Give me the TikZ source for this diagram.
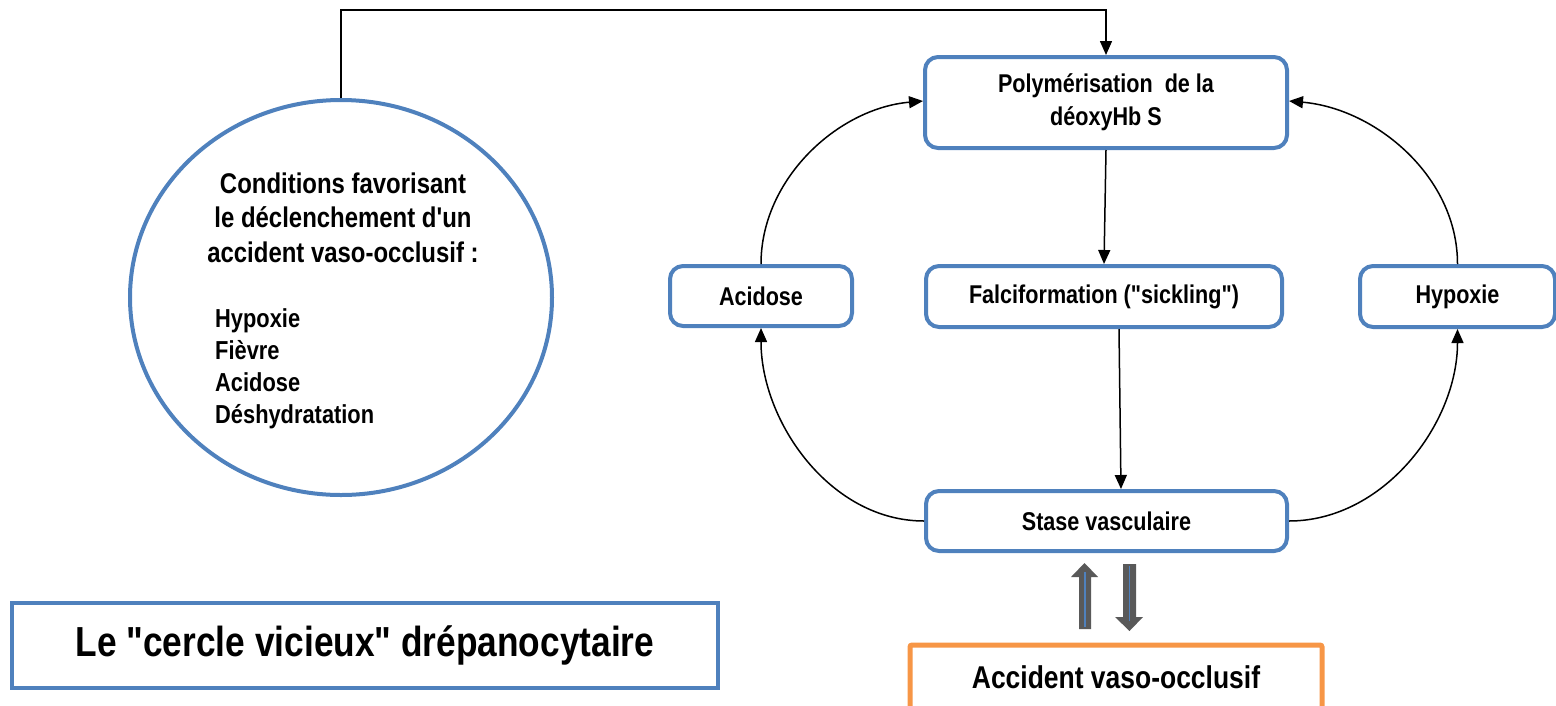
\documentclass[tikz,border=0pt]{standalone}
\usepackage{fontspec}
\setmainfont{Liberation Sans}[Ligatures=TeXOff, FakeStretch=0.84]
\usetikzlibrary{arrows.meta,shapes.geometric}
\definecolor{boxblue}{HTML}{4F81BD}
\definecolor{boxorange}{HTML}{F79646}
\definecolor{blockgray}{HTML}{595959}
\tikzset{
  x=1pt, y=1pt,
  stepbox/.style={draw=boxblue, line width=4pt, rounded corners=13pt, fill=white,
    font=\bfseries\fontsize{25.7}{33}\selectfont, align=center, inner sep=0pt},
  conn/.style={draw=black, line width=1.5pt, -{Triangle[length=14pt,width=12pt]}},
  headtxt/.style={font=\bfseries\fontsize{28.5}{34.5}\selectfont, inner sep=0pt},
  listtxt/.style={font=\bfseries\fontsize{26}{31.7}\selectfont, inner sep=0pt},
}
\begin{document}
\begin{tikzpicture}
\useasboundingbox (0,0) rectangle (1556,-705);

% left: triggering conditions
\node[draw=boxblue, line width=4pt, ellipse, minimum width=422pt, minimum height=395pt, inner sep=0pt]
  (cond) at (341,-297.5) {};
\node[headtxt, align=center, anchor=base] (condhead) at (343,-262)
  {Conditions favorisant\\le déclenchement d'un\\accident vaso-occlusif :};
\node[listtxt, align=left, anchor=base west] (condlist) at (215,-423)
  {Hypoxie\\Fièvre\\Acidose\\Déshydratation};

% the vicious circle
\node[stepbox, minimum width=362pt, minimum height=91pt] (poly) at (1106,-102.5)
  {Polymérisation\ \ de la\\déoxyHb S};
\node[stepbox, minimum width=182pt, minimum height=60pt] (acid) at (761,-296) {Acidose};
\node[stepbox, minimum width=356pt, minimum height=61pt] (falci) at (1104,-296.5) {Falciformation ("sickling")};
\node[stepbox, minimum width=195pt, minimum height=61pt] (hypo) at (1457.5,-296.5) {Hypoxie};
\node[stepbox, minimum width=361pt, minimum height=60pt] (stase) at (1106.5,-521) {Stase vasculaire};
\node[draw=boxorange, line width=5pt, rounded corners=2pt, fill=white, minimum width=412pt, minimum height=64pt,
  font=\bfseries\fontsize{31.5}{36}\selectfont, inner sep=0pt] (avo) at (1116,-677) {Accident vaso-occlusif};

% title
\node[draw=boxblue, line width=4pt, minimum width=706pt, minimum height=85pt, inner sep=0pt,
  font=\bfseries\fontsize{42}{50}\selectfont] (title) at (365,-645.5) {Le "cercle vicieux" drépanocytaire};

% connectors
\draw[conn] (cond.north) -- (cond.north |- 0,-10) -- (poly.north |- 0,-10) -- (poly.north);
\draw[conn] (poly.south) -- (falci.north);
\draw[conn] ([xshift=15pt]falci.south) -- ([xshift=14.5pt]stase.north);
\draw[conn] (acid.north) to[out=90, in=185, looseness=0.95] ([yshift=1.5pt]poly.west);
\draw[conn] (stase.west) to[out=180, in=-90, looseness=0.95] (acid.south);
\draw[conn] (stase.east) to[out=0, in=-90, looseness=0.95] (hypo.south);
\draw[conn] (hypo.north) to[out=90, in=-5, looseness=0.95] ([yshift=1.5pt]poly.east);

% block arrows between stasis and the occlusive crisis
\fill[blockgray] (1079,-629) -- (1079,-577) -- (1071,-577) -- (1084.5,-563) -- (1098,-577) -- (1091,-577) -- (1091,-629) -- cycle;
\draw[boxblue, line width=1.3pt] (1085,-627) -- (1085,-572);
\fill[blockgray] (1123,-564) -- (1123,-617) -- (1115,-617) -- (1129.5,-631) -- (1143,-617) -- (1136,-617) -- (1136,-564) -- cycle;
\draw[boxblue, line width=1.3pt] (1129.5,-566) -- (1129.5,-621);
\end{tikzpicture}
\end{document}
